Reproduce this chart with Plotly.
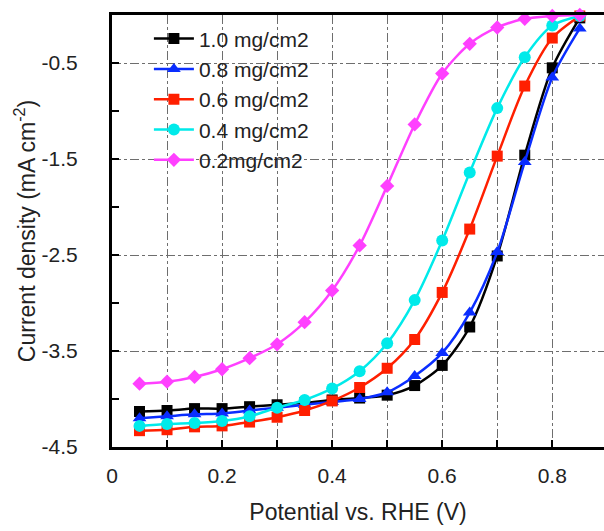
import plotly.graph_objects as go

# potential (V vs RHE)
potential = [0.05, 0.10, 0.15, 0.20, 0.25, 0.30, 0.35, 0.40, 0.45,
             0.50, 0.55, 0.60, 0.65, 0.70, 0.75, 0.80, 0.85]

# current density (mA cm-2) for each catalyst loading
j_10 = [-4.13, -4.12, -4.10, -4.10, -4.08, -4.06, -4.04, -4.01, -3.99,
        -3.96, -3.86, -3.65, -3.25, -2.51, -1.46, -0.55, -0.03]
j_08 = [-4.20, -4.18, -4.16, -4.15, -4.12, -4.09, -4.06, -4.03, -4.00,
        -3.93, -3.76, -3.52, -3.10, -2.47, -1.53, -0.65, -0.14]
j_06 = [-4.33, -4.32, -4.29, -4.28, -4.24, -4.19, -4.12, -4.02, -3.88,
        -3.68, -3.38, -2.89, -2.23, -1.47, -0.74, -0.24, -0.01]
j_04 = [-4.28, -4.26, -4.25, -4.23, -4.18, -4.09, -4.01, -3.89, -3.71,
        -3.42, -2.97, -2.35, -1.64, -0.97, -0.44, -0.11, -0.01]
j_02 = [-3.84, -3.82, -3.77, -3.69, -3.575, -3.43, -3.20, -2.87, -2.40,
        -1.78, -1.14, -0.61, -0.30, -0.13, -0.04, -0.01, 0.0]

# y tick labels use a plain hyphen, as in the original
y_tickvals = [-4.5, -3.5, -2.5, -1.5, -0.5]
y_ticktext = ["-4.5", "-3.5", "-2.5", "-1.5", "-0.5"]

series = [
    ("1.0 mg/cm2", j_10, "#000000", "square", 11),
    ("0.8 mg/cm2", j_08, "#0a2dff", "triangle-up", 12),
    ("0.6 mg/cm2", j_06, "#ff1f00", "square", 11),
    ("0.4 mg/cm2", j_04, "#00eaea", "circle", 12),
    ("0.2mg/cm2", j_02, "#ff40ff", "diamond", 11),
]

FONT = "Liberation Sans, Arial, sans-serif"

fig = go.Figure()
for name, ys, color, sym, size in series:
    fig.add_trace(go.Scatter(
        x=potential, y=ys, name=name, mode="lines+markers",
        line=dict(color=color, width=2.5, shape="spline", smoothing=0.8),
        marker=dict(symbol=sym, size=size, color=color),
        cliponaxis=False,
    ))

grid = dict(showgrid=True, gridcolor="#6e6e6e", gridwidth=1, griddash="dashdot")

fig.update_layout(
    width=604, height=531,
    margin=dict(l=112, r=0, t=15, b=84),
    paper_bgcolor="white", plot_bgcolor="white",
    font=dict(family=FONT, color="#222222", size=21),
    showlegend=True,
    legend=dict(
        x=0.075, y=0.992, xanchor="left", yanchor="top",
        bgcolor="rgba(0,0,0,0)", borderwidth=0,
        font=dict(size=21, family=FONT, color="#222222"),
        tracegroupgap=0, itemwidth=40,
    ),
)

fig.update_xaxes(
    range=[0, 0.894], tick0=0, dtick=0.2, automargin=False,
    ticks="inside", ticklen=7, tickwidth=1.5, tickcolor="black",
    showline=True, linewidth=3, linecolor="black", mirror=True,
    zeroline=False, ticklabelstandoff=8,
    tickfont=dict(size=21, family=FONT, color="#222222"),
    title=dict(text="Potential vs. RHE (V)", font=dict(size=23, family=FONT, color="#222222"), standoff=18),
    minor=dict(dtick=0.1, ticks="inside", ticklen=7, tickwidth=1.5, tickcolor="black", **grid),
    **grid,
)

fig.update_yaxes(
    range=[-4.5, 0], tickmode="array", tickvals=y_tickvals, ticktext=y_ticktext,
    automargin=False,
    ticks="inside", ticklen=7, tickwidth=1.5, tickcolor="black",
    showline=True, linewidth=3, linecolor="black", mirror=False,
    zeroline=False, ticklabelstandoff=27,
    tickfont=dict(size=21, family=FONT, color="#222222"),
    title=dict(text="Current density (mA cm<sup>-2</sup>)", font=dict(size=23, family=FONT, color="#222222"), standoff=0),
    minor=dict(dtick=0.5, tick0=-4.5, ticks="inside", ticklen=7, tickwidth=1.5, tickcolor="black", showgrid=False),
    **grid,
)

# page body has a default 8px margin; drop it so the figure sits at the window origin
fig.write_html("out.html", config={"displayModeBar": False},
               post_script="document.body.style.margin='0';")
